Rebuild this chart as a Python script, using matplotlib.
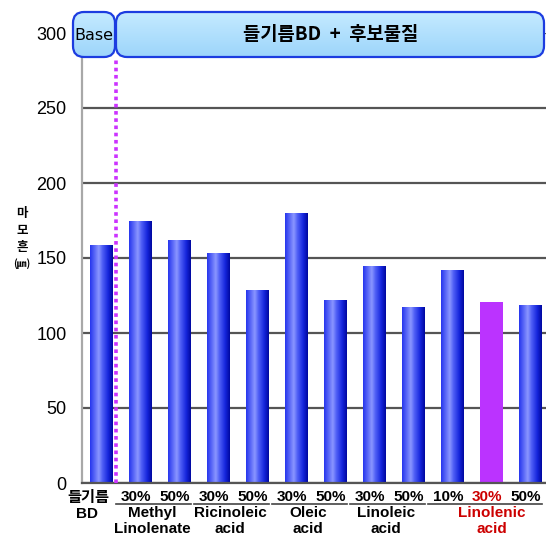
import numpy as np
import matplotlib
matplotlib.use('Agg')
import matplotlib.pyplot as plt
from matplotlib.colors import LinearSegmentedColormap
from matplotlib.patches import FancyBboxPatch

# data
values = [159, 175, 162, 153.5, 129, 180, 122, 145, 117.5, 142, 121, 118.5]
pct_labels = ['', '30%', '50%', '30%', '50%', '30%', '50%', '30%', '50%', '10%', '30%', '50%']
group_names = ['Methyl\nLinolenate', 'Ricinoleic\nacid', 'Oleic\nacid', 'Linoleic\nacid', 'Linolenic\nacid']
group_members = [[1, 2], [3, 4], [5, 6], [7, 8], [9, 10, 11]]
base_label = ['들기름', 'BD']
highlight = 10
yticks = [0, 50, 100, 150, 200, 250, 300]

KR = ['Noto Sans CJK KR', 'DejaVu Sans']
LAT = ['Liberation Sans', 'DejaVu Sans']
RED = '#cc0000'

fig = plt.figure(figsize=(5.46, 5.37), dpi=100)
ax = fig.add_axes([82 / 546, 54 / 537, 464 / 546, 450 / 537])

bar_cmap = LinearSegmentedColormap.from_list('bar', [
    (0.0, '#2636ee'), (0.38, '#8a96ff'), (0.55, '#4e5ef6'),
    (0.8, '#1626dc'), (1.0, '#0008a0')])
grad = np.linspace(0, 1, 64).reshape(1, -1)

x = np.arange(len(values))
bars = ax.bar(x, values, width=0.58, color='#3040f0', edgecolor='none', zorder=2)
for i, b in enumerate(bars):
    if i == highlight:
        b.set_facecolor('#bb33ff')
        continue
    im = ax.imshow(grad, extent=(b.get_x(), b.get_x() + b.get_width(), 0, b.get_height()),
                   aspect='auto', cmap=bar_cmap, zorder=2.5)
    im.set_clip_path(b)

ax.set_xlim(-0.5, -0.5 + 464 / 39)
ax.set_ylim(0, 300)
ax.set_yticks(yticks)
ax.set_yticklabels([str(t) for t in yticks], fontsize=13, family=LAT)
ax.tick_params(axis='y', length=0, pad=11)
ax.set_xticks([])
ax.set_axisbelow(True)
ax.yaxis.grid(True, color='#555555', lw=1.6)
for s in ['top', 'right']:
    ax.spines[s].set_visible(False)
ax.spines['bottom'].set_color('#555555')
ax.spines['bottom'].set_linewidth(1.6)
ax.spines['left'].set_color('#a8a8a8')
ax.spines['left'].set_linewidth(1.6)

# dotted separator between base and candidates
ax.plot([0.36, 0.36], [0, 284], ls=(0, (1, 1)), color='#cc33ff', lw=2.6,
        clip_on=False, zorder=4)

# x labels
tr = ax.get_xaxis_transform()
ax.text(-0.33, -0.031, base_label[0], transform=tr, ha='center', va='center',
        fontsize=11, fontweight='bold', family=KR)
ax.text(-0.38, -0.068, base_label[1], transform=tr, ha='center', va='center',
        fontsize=11, fontweight='bold', family=LAT)
for i, lab in enumerate(pct_labels):
    if not lab:
        continue
    ax.text(i - 0.12, -0.031, lab, transform=tr, ha='center', va='center',
            fontsize=11, fontweight='bold', family=LAT,
            color=RED if i == highlight else 'black')
for k, (name, members) in enumerate(zip(group_names, group_members)):
    ax.plot([members[0] - 0.62, members[-1] + 0.3], [-0.046, -0.046], transform=tr,
            color='#444444', lw=1.2, clip_on=False)
    cx = np.mean(members) - 0.2 if len(members) == 2 else members[1]
    ax.text(cx, -0.051, name, transform=tr, ha='center', va='top',
            fontsize=11, fontweight='bold', family=LAT, linespacing=1.2,
            color=RED if highlight in members else 'black')

# overlay in pixel coordinates for banner and y label
ov = fig.add_axes([0, 0, 1, 1], zorder=5)
ov.set_xlim(0, 546)
ov.set_ylim(537, 0)
ov.axis('off')
ov.patch.set_visible(False)

ban_cmap = LinearSegmentedColormap.from_list('ban', ['#c4eaff', '#9dd5fb'])
vgrad = np.linspace(0, 1, 50).reshape(-1, 1)
for (bx, bw) in [(73, 42), (116, 428)]:
    box = FancyBboxPatch((bx, 12), bw, 45, boxstyle='round,pad=0,rounding_size=11',
                         facecolor='none', edgecolor='#1c3ce0', lw=1.6, zorder=3)
    ov.add_patch(box)
    im = ov.imshow(vgrad, extent=(bx, bx + bw, 57, 12), aspect='auto', cmap=ban_cmap, zorder=2)
    im.set_clip_path(box)
ov.set_xlim(0, 546)
ov.set_ylim(537, 0)
ov.text(94, 35, 'Base', ha='center', va='center', fontsize=11.5,
        family=['Liberation Sans Narrow', 'DejaVu Sans'], zorder=4)
ov.text(331, 35, '들기름BD  +  후보물질', ha='center', va='center', fontsize=13.5,
        fontweight='bold', family=KR, zorder=4)

for ch, yy, fs in [('마', 214, 9), ('모', 231, 9), ('흔', 248, 9), ('(㎛)', 264, 7)]:
    ov.text(22, yy, ch, ha='center', va='center', fontsize=fs, fontweight='bold', family=KR)

fig.savefig('out.png', dpi=100)
